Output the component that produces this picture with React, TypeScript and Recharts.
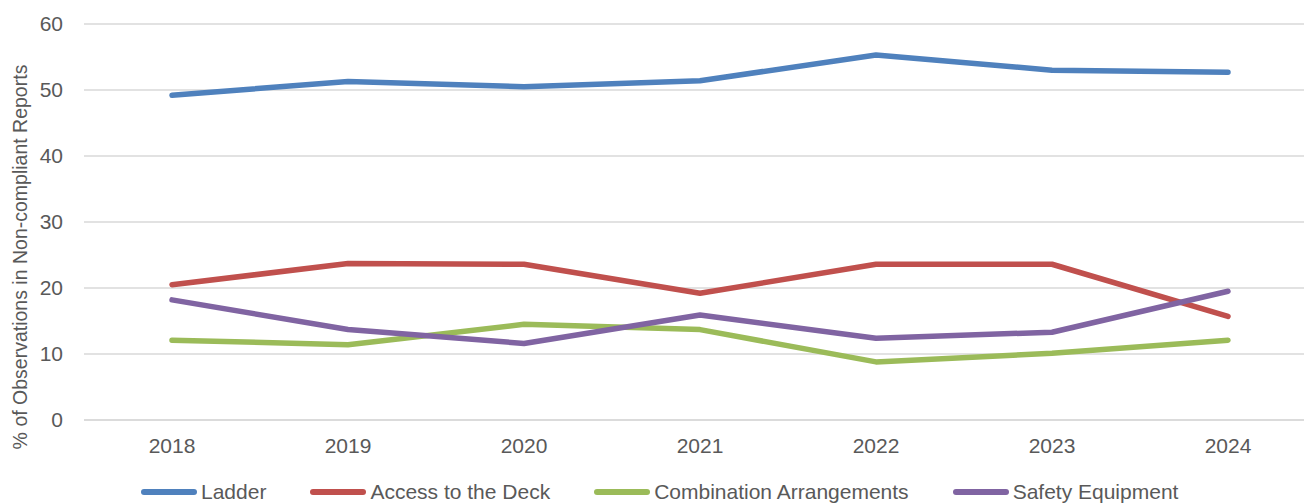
import React from "react";
import { LineChart, Line, XAxis, YAxis, CartesianGrid } from "recharts";

const years = ["2018", "2019", "2020", "2021", "2022", "2023", "2024"];
const ladder = [49.2, 51.3, 50.5, 51.4, 55.3, 53.0, 52.7];
const accessToDeck = [20.5, 23.7, 23.6, 19.2, 23.6, 23.6, 15.7];
const combination = [12.1, 11.4, 14.5, 13.7, 8.8, 10.1, 12.1];
const safety = [18.2, 13.7, 11.6, 15.9, 12.4, 13.3, 19.5];
const yTicks = [0, 10, 20, 30, 40, 50, 60];

const series = [
  { key: "ladder", name: "Ladder", color: "#4F81BD", values: ladder },
  { key: "access", name: "Access to the Deck", color: "#C0504D", values: accessToDeck },
  { key: "combination", name: "Combination Arrangements", color: "#9BBB59", values: combination },
  { key: "safety", name: "Safety Equipment", color: "#8064A2", values: safety },
];

const data = years.map((year, i) => {
  const row: Record<string, string | number> = { year };
  series.forEach(s => {
    row[s.key] = s.values[i];
  });
  return row;
});

const FONT = '"Liberation Sans", Arial, sans-serif';
const TEXT = "#595959";

function YLabel() {
  return (
    <text
      x={20}
      y={257}
      transform="rotate(-90 20 257)"
      textAnchor="middle"
      dominantBaseline="central"
      fill={TEXT}
      fontSize={19.5}
      fontFamily={FONT}
    >
      % of Observations in Non-compliant Reports
    </text>
  );
}

export default function App() {
  return (
    <div style={{ position: "absolute", top: 0, left: 0, width: 1304, height: 504, overflow: "hidden", background: "#fff" }}>
      <LineChart width={1320} height={504} data={data} margin={{ top: 24, right: 4, bottom: 54, left: 0 }}>
        <CartesianGrid vertical={false} stroke="#D9D9D9" strokeWidth={1.5} />
        <XAxis
          dataKey="year"
          padding={{ left: 88, right: 88 }}
          tickLine={false}
          axisLine={{ stroke: "#D9D9D9", strokeWidth: 1.5 }}
          tickSize={0}
          tickMargin={18}
          tick={{ fill: TEXT, fontSize: 21, fontFamily: FONT }}
        />
        <YAxis
          width={84}
          domain={[0, 60]}
          ticks={yTicks}
          axisLine={false}
          tickLine={false}
          tickSize={0}
          tickMargin={21}
          tick={{ fill: TEXT, fontSize: 21, fontFamily: FONT }}
        />
        {series.map(s => (
          <Line
            key={s.key}
            dataKey={s.key}
            name={s.name}
            stroke={s.color}
            strokeWidth={5.5}
            strokeLinecap="round"
            strokeLinejoin="round"
            dot={false}
            activeDot={false}
            isAnimationActive={false}
          />
        ))}
        <YLabel />
      </LineChart>
      <div
        style={{
          position: "absolute",
          top: 480,
          left: 141,
          display: "flex",
          alignItems: "center",
          gap: 44,
          fontFamily: FONT,
          fontSize: 21,
          color: TEXT,
          whiteSpace: "nowrap",
        }}
      >
        {series.map(s => (
          <div key={s.key} style={{ display: "flex", alignItems: "center", gap: 4 }}>
            <span style={{ display: "inline-block", width: 56, height: 5.5, borderRadius: 3, background: s.color }} />
            <span>{s.name}</span>
          </div>
        ))}
      </div>
    </div>
  );
}
